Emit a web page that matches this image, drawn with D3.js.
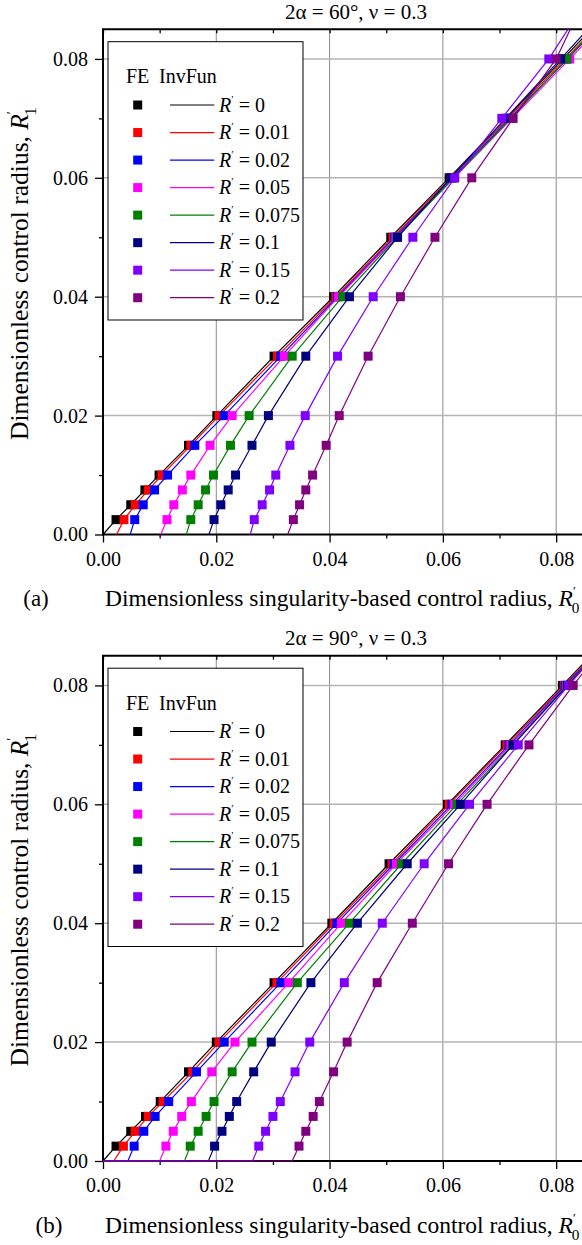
<!DOCTYPE html>
<html>
<head>
<meta charset="utf-8">
<script src="https://cdn.jsdelivr.net/npm/d3@7/dist/d3.min.js"></script>
<style>
    body { margin: 0; background: #fff; }
    svg { display: block; font-family: 'Liberation Serif', 'Times New Roman', serif; }
</style>
</head>
<body>
<svg id="chart" width="582" height="1245"></svg>
<script>
/*jslint browser: true*/
/*global d3*/

// R'_1 levels where FE points were computed (same for every curve)
var feY = [0.0025, 0.005, 0.0075, 0.01, 0.015, 0.02, 0.03, 0.04, 0.05, 0.06, 0.07, 0.08];
var rLabels = ['0', '0.01', '0.02', '0.05', '0.075', '0.1', '0.15', '0.2'];
var titles = ['2\u03b1 = 60\u00b0, \u03bd = 0.3', '2\u03b1 = 90\u00b0, \u03bd = 0.3'];
var tags = ['(a)', '(b)'];
var majorTicks = [0, 0.02, 0.04, 0.06, 0.08];
var minorTicks = [0.01, 0.03, 0.05, 0.07];

// 2alpha = 60 deg : R'_0 of the FE points, one row per R'
var fe60 = [
    [0.0023, 0.0049, 0.0074, 0.0099, 0.0151, 0.0201, 0.0302, 0.0407, 0.0508, 0.0611, 0.0712, 0.0812],
    [0.0037, 0.0057, 0.0080, 0.0104, 0.0155, 0.0205, 0.0308, 0.0411, 0.0512, 0.0614, 0.0715, 0.0816],
    [0.0056, 0.0071, 0.0091, 0.0114, 0.0162, 0.0214, 0.0314, 0.0414, 0.0515, 0.0617, 0.0718, 0.0820],
    [0.0113, 0.0125, 0.0140, 0.0155, 0.0189, 0.0228, 0.0320, 0.0416, 0.0517, 0.0620, 0.0722, 0.0824],
    [0.0155, 0.0168, 0.0181, 0.0195, 0.0225, 0.0258, 0.0334, 0.0423, 0.0519, 0.0619, 0.0720, 0.0819],
    [0.0196, 0.0208, 0.0221, 0.0234, 0.0263, 0.0292, 0.0358, 0.0435, 0.0520, 0.0614, 0.0711, 0.0808],
    [0.0267, 0.0281, 0.0294, 0.0305, 0.0330, 0.0357, 0.0414, 0.0477, 0.0547, 0.0621, 0.0704, 0.0787],
    [0.0336, 0.0347, 0.0358, 0.0370, 0.0394, 0.0417, 0.0468, 0.0525, 0.0586, 0.0651, 0.0724, 0.0800]
];
// InvFun curves: R'_0 where they leave R'_1 = 0 and where they reach R'_1 = 0.09
var inv60Start = [0, 0.0024, 0.0048, 0.0102, 0.0147, 0.0187, 0.0260, 0.0326];
var inv60End = [0.0912, 0.0917, 0.0920, 0.0925, 0.0918, 0.0904, 0.0855, 0.0850];

// 2alpha = 90 deg
var fe90 = [
    [0.0023, 0.0049, 0.0075, 0.0101, 0.0151, 0.0200, 0.0302, 0.0404, 0.0505, 0.0608, 0.0710, 0.0811],
    [0.0036, 0.0057, 0.0080, 0.0106, 0.0158, 0.0205, 0.0307, 0.0408, 0.0510, 0.0611, 0.0713, 0.0814],
    [0.0055, 0.0072, 0.0092, 0.0116, 0.0165, 0.0214, 0.0314, 0.0413, 0.0514, 0.0616, 0.0717, 0.0816],
    [0.0111, 0.0124, 0.0139, 0.0156, 0.0192, 0.0233, 0.0328, 0.0421, 0.0518, 0.0620, 0.0720, 0.0818],
    [0.0154, 0.0168, 0.0182, 0.0196, 0.0228, 0.0263, 0.0343, 0.0435, 0.0527, 0.0625, 0.0723, 0.0819],
    [0.0197, 0.0210, 0.0223, 0.0236, 0.0266, 0.0297, 0.0367, 0.0449, 0.0537, 0.0631, 0.0724, 0.0820],
    [0.0275, 0.0287, 0.0300, 0.0313, 0.0339, 0.0365, 0.0426, 0.0493, 0.0567, 0.0647, 0.0733, 0.0822],
    [0.0346, 0.0358, 0.0371, 0.0382, 0.0407, 0.0431, 0.0484, 0.0546, 0.0610, 0.0678, 0.0752, 0.0830]
];
var inv90Start = [0, 0.0019, 0.0044, 0.0100, 0.0144, 0.0186, 0.0264, 0.0334];
var inv90End = [0.0911, 0.0914, 0.0916, 0.0917, 0.0916, 0.0916, 0.0913, 0.0912];
var invEndY = 0.09;

(function (d3) {
    'use strict';

    var colors = ['#000000', '#ff0000', '#0000ff', '#ff00ff', '#008000', '#000080', '#8000ff', '#800080'],
        svg = d3.select('#chart'),
        x = d3.scaleLinear().domain([0, 0.085]).range([103, 584.5]),
        panels = [
            {fe: fe60, start: inv60Start, end: inv60End, fromOrigin: false, tagX: 36},
            {fe: fe90, start: inv90Start, end: inv90End, fromOrigin: true, tagX: 49}
        ],
        fmt = d3.format('.2f'),
        sq = 9;

    // italic R with a prime above and optional subscript
    function rSymbol(text, sub, size) {
        text.append('tspan').attr('font-style', 'italic').text('R');
        text.append('tspan').attr('font-size', size * 0.55).attr('dy', -size * 0.45).text('\u2032');
        if (sub) {
            text.append('tspan').attr('font-size', size * 0.65)
                .attr('dx', -size * 0.17).attr('dy', size * 0.75).text(sub);
        }
    }

    function styleAxis(sel) {
        sel.attr('font-family', null).attr('font-size', null);
        sel.select('.domain').remove();
        sel.selectAll('line').attr('stroke', '#000').attr('stroke-width', 1.3);
        sel.selectAll('text').attr('font-size', 20).attr('fill', '#000');
    }

    panels.forEach(function (p, i) {
        var base = 534.5 + i * 626.5,
            y = d3.scaleLinear().domain([0, 0.085]).range([base, base - 505.3]),
            top = y(0.085),
            g = svg.append('g'),
            clipId = 'clip' + i,
            line = d3.line().x(function (d) { return x(d[0]); }).y(function (d) { return y(d[1]); }),
            t,
            leg;

        svg.append('clipPath').attr('id', clipId)
            .append('rect')
            .attr('x', x(0)).attr('y', top)
            .attr('width', x(0.085) - x(0)).attr('height', base - top + 2);

        // grid
        g.selectAll('.vgrid').data(majorTicks.slice(1)).enter()
            .append('line')
            .attr('x1', x).attr('x2', x)
            .attr('y1', top).attr('y2', base)
            .attr('stroke', '#8c8c8c').attr('stroke-width', 1);
        g.selectAll('.hgrid').data(majorTicks.slice(1)).enter()
            .append('line')
            .attr('x1', x(0)).attr('x2', x(0.085))
            .attr('y1', y).attr('y2', y)
            .attr('stroke', '#b4b4b4').attr('stroke-width', 1.5);

        // axes
        g.append('g').attr('transform', 'translate(0,' + base + ')')
            .call(d3.axisBottom(x).tickValues(majorTicks).tickSize(8).tickPadding(9).tickFormat(fmt))
            .call(styleAxis);
        g.append('g').attr('transform', 'translate(0,' + base + ')')
            .call(d3.axisBottom(x).tickValues(minorTicks).tickSize(4).tickFormat(''))
            .call(styleAxis);
        g.append('g').attr('transform', 'translate(' + x(0) + ',0)')
            .call(d3.axisLeft(y).tickValues(majorTicks).tickSize(8).tickPadding(7).tickFormat(fmt))
            .call(styleAxis);
        g.append('g').attr('transform', 'translate(' + x(0) + ',0)')
            .call(d3.axisLeft(y).tickValues(minorTicks).tickSize(4).tickFormat(''))
            .call(styleAxis);
        g.append('g').attr('transform', 'translate(0,' + top + ')')
            .call(d3.axisBottom(x).tickValues(minorTicks.concat(majorTicks)).tickSize(4).tickFormat(''))
            .call(styleAxis);

        g.append('path')
            .attr('d', 'M' + x(0.085) + ',' + top + 'H' + x(0) + 'V' + base + 'H' + x(0.085))
            .attr('fill', 'none').attr('stroke', '#000').attr('stroke-width', 2);

        // curves and FE points
        colors.forEach(function (c, s) {
            var pts = [[p.start[s], 0]];
            if (p.fromOrigin) {
                pts.unshift([0, 0]);
            }
            feY.forEach(function (v, k) {
                pts.push([p.fe[s][k], v]);
            });
            pts.push([p.end[s], invEndY]);

            g.append('path')
                .attr('clip-path', 'url(#' + clipId + ')')
                .attr('d', line(pts))
                .attr('fill', 'none')
                .attr('stroke', c)
                .attr('stroke-width', 1.2);

            g.selectAll('.fe' + s).data(feY).enter()
                .append('rect')
                .attr('x', function (v, k) { return x(p.fe[s][k]) - sq / 2; })
                .attr('y', function (v) { return y(v) - sq / 2; })
                .attr('width', sq).attr('height', sq)
                .attr('fill', c);
        });

        // titles
        g.append('text')
            .attr('x', 356).attr('y', top - 10.5)
            .attr('text-anchor', 'middle').attr('font-size', 21)
            .text(titles[i]);

        g.append('text')
            .attr('x', p.tagX).attr('y', base + 71.5)
            .attr('text-anchor', 'middle').attr('font-size', 23)
            .text(tags[i]);

        t = g.append('text')
            .attr('x', 105).attr('y', base + 71.5)
            .attr('font-size', 23.5);
        t.append('tspan').text('Dimensionless singularity-based control radius, ');
        rSymbol(t, '0', 23.5);

        t = g.append('text')
            .attr('transform', 'translate(28,' + (base - 261) + ') rotate(-90)')
            .attr('text-anchor', 'middle')
            .attr('font-size', 25.5);
        t.append('tspan').text('Dimensionless control radius, ');
        rSymbol(t, '1', 25.5);

        // legend
        leg = g.append('g').attr('transform', 'translate(108,' + (base - 492.8) + ')');
        leg.append('rect')
            .attr('width', 195).attr('height', 278.3)
            .attr('fill', '#fff').attr('stroke', '#000').attr('stroke-width', 1);
        leg.append('text').attr('x', 18).attr('y', 41.6).attr('font-size', 20).text('FE');
        leg.append('text').attr('x', 51).attr('y', 41.6).attr('font-size', 20).text('InvFun');

        rLabels.forEach(function (r, k) {
            var cy = 63.3 + k * 27.53,
                lt;
            leg.append('rect')
                .attr('x', 29.7 - sq / 2).attr('y', cy - sq / 2)
                .attr('width', sq).attr('height', sq)
                .attr('fill', colors[k]);
            leg.append('line')
                .attr('x1', 62).attr('x2', 106.3)
                .attr('y1', cy).attr('y2', cy)
                .attr('stroke', colors[k]).attr('stroke-width', 1.2);
            lt = leg.append('text')
                .attr('x', 111).attr('y', cy + 6.8)
                .attr('font-size', 20);
            rSymbol(lt, null, 20);
            lt.append('tspan').attr('dy', 9).text(' = ' + r);
        });
    });

}(window.d3));
</script>
</body>
</html>
